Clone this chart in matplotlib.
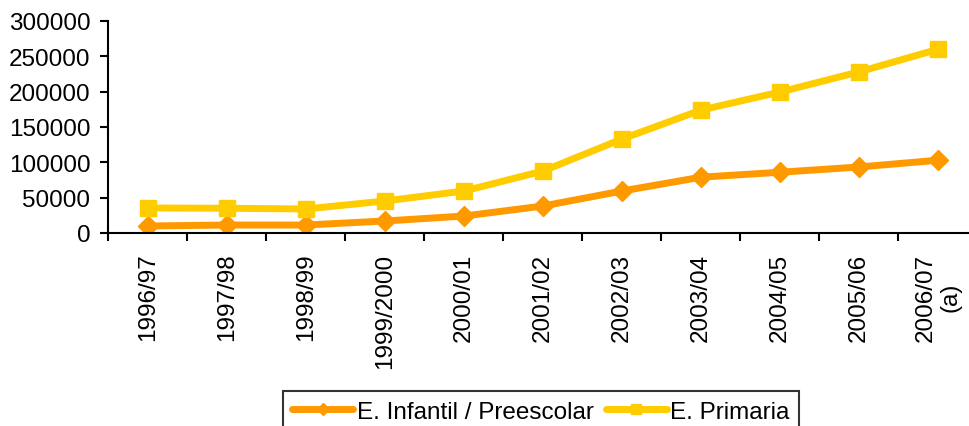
import matplotlib.pyplot as plt
import numpy as np

plt.rcParams['font.family'] = ['Liberation Sans', 'DejaVu Sans']

cursos = ['1996/97', '1997/98', '1998/99', '1999/2000', '2000/01', '2001/02',
          '2002/03', '2003/04', '2004/05', '2005/06', '2006/07\n(a)']
infantil = [9900, 11300, 11300, 17000, 24000, 38200, 59400, 79000, 86000, 93400, 103000]
primaria = [35400, 35000, 34000, 45300, 59400, 87700, 133000, 174000, 199500, 228000, 260000]

fig = plt.figure(figsize=(9.7, 4.27), dpi=100)
ax = fig.add_axes([108.5 / 970, 1 - 234 / 427, 869 / 970, 212 / 427])

x = np.arange(len(cursos))
ax.plot(x, infantil, color='#FF9900', lw=5, marker='D', ms=10,
        label='E. Infantil / Preescolar', solid_capstyle='round')
ax.plot(x, primaria, color='#FFCC00', lw=5, marker='s', ms=11.5,
        label='E. Primaria', solid_capstyle='round')

ax.set_xlim(-0.5, len(cursos) - 0.5)
ax.set_ylim(0, 300000)
ax.set_yticks(np.arange(0, 300001, 50000))
ax.set_xticks(x)
ax.set_xticklabels(cursos, rotation=90, va='top', ha='center', fontsize=17.5)
ax.tick_params(axis='x', length=0, pad=14)
ax.set_xticks(np.arange(-0.5, len(cursos), 1), minor=True)
ax.tick_params(axis='x', which='minor', length=6, width=1.5, direction='out')
ax.tick_params(axis='y', labelsize=17.5, length=6, width=1.5, pad=7)

for s in ['top', 'right']:
    ax.spines[s].set_visible(False)
for s in ['left', 'bottom']:
    ax.spines[s].set_linewidth(1.5)

leg = fig.legend(loc='upper center', bbox_to_anchor=(541 / 970, 1 - 392 / 427),
                 ncol=2, fontsize=17.5, frameon=True, fancybox=False,
                 edgecolor='black', handlelength=2.5, handletextpad=0.15,
                 columnspacing=0.5, borderpad=0.4, borderaxespad=0,
                 markerscale=0.6)
leg.get_frame().set_linewidth(1.5)

fig.savefig('out.png', dpi=100)
